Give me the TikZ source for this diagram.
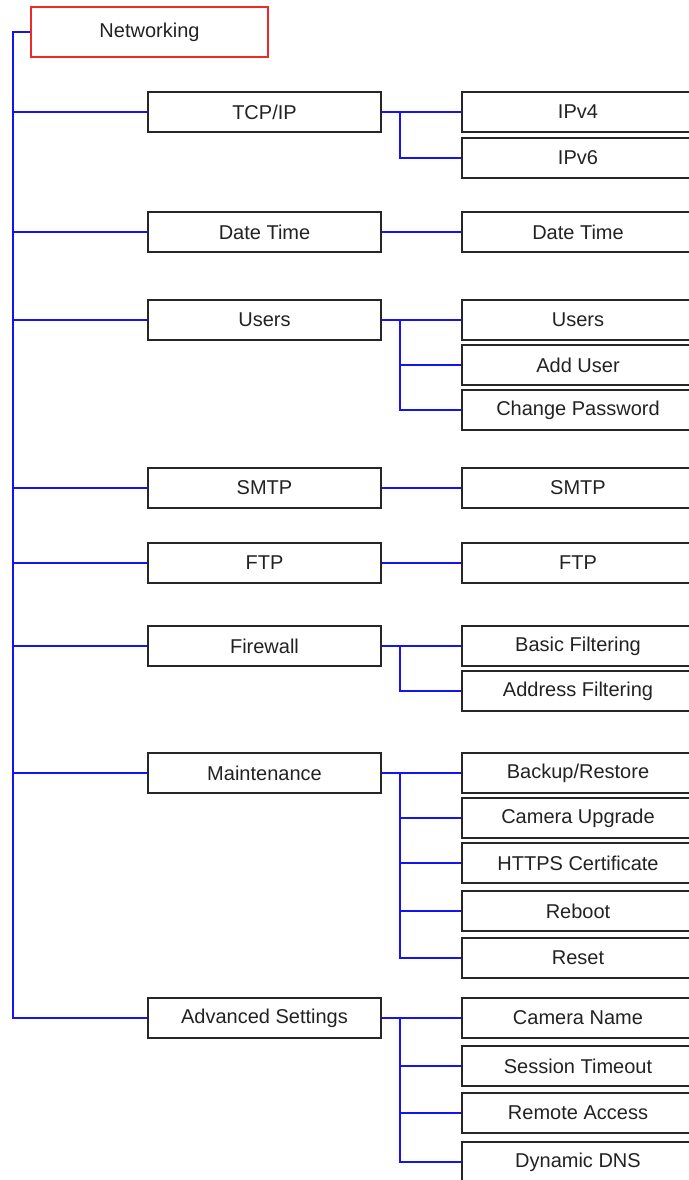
\documentclass[tikz,border=0pt]{standalone}
\usepackage{fontspec}
\setmainfont{Liberation Sans}
\usetikzlibrary{positioning}
\definecolor{netblue}{HTML}{1414F0}
\definecolor{netred}{HTML}{F02828}
\definecolor{nettext}{HTML}{222222}

\begin{document}
\begin{tikzpicture}[x=1pt, y=-1pt,
  rootbox/.style={rectangle, draw=netred, line width=1.8pt, inner sep=0pt,
    minimum width=237pt, minimum height=50pt,
    font=\fontsize{20}{24}\selectfont, text=nettext},
  menubox/.style={rectangle, draw=black!85, line width=1.8pt, inner sep=0pt,
    minimum width=233pt, minimum height=40pt,
    font=\fontsize{20}{24}\selectfont, text=nettext},
  pagebox/.style={menubox, minimum width=232pt},
  link/.style={netblue, line width=2pt},
]
  \useasboundingbox (0,0) rectangle (688,1180);

  % root and first level
  \node[rootbox] (net) at (149.5,32) {Networking};
  \node[menubox] (tcp) at (264.5,112) {TCP/IP};
  \node[menubox] (date) at (264.5,232) {Date Time};
  \node[menubox] (users) at (264.5,320) {Users};
  \node[menubox] (smtp) at (264.5,488) {SMTP};
  \node[menubox] (ftp) at (264.5,563) {FTP};
  \node[menubox] (fw) at (264.5,646) {Firewall};
  \node[menubox] (maint) at (264.5,773) {Maintenance};
  \node[menubox] (adv) at (264.5,1018) {Advanced Settings};

  % second level
  \node[pagebox] (ipv4) at (578,112) {IPv4};
  \node[pagebox] (ipv6) at (578,158) {IPv6};
  \node[pagebox] (datep) at (578,232) {Date Time};
  \node[pagebox] (usersp) at (578,320) {Users};
  \node[pagebox] (adduser) at (578,365) {Add User};
  \node[pagebox] (chpass) at (578,410) {Change Password};
  \node[pagebox] (smtpp) at (578,488) {SMTP};
  \node[pagebox] (ftpp) at (578,563) {FTP};
  \node[pagebox] (basicf) at (578,646) {Basic Filtering};
  \node[pagebox] (addrf) at (578,691) {Address Filtering};
  \node[pagebox] (backup) at (578,773) {Backup/Restore};
  \node[pagebox] (upgrade) at (578,818) {Camera Upgrade};
  \node[pagebox] (https) at (578,863) {HTTPS Certificate};
  \node[pagebox] (reboot) at (578,911) {Reboot};
  \node[pagebox] (reset) at (578,958) {Reset};
  \node[pagebox] (camname) at (578,1018) {Camera Name};
  \node[pagebox] (session) at (578,1066) {Session Timeout};
  \node[pagebox] (remote) at (578,1113) {Remote Access};
  \node[pagebox] (ddns) at (578,1162) {Dynamic DNS};

  % trunk on the left
  \coordinate (trunk) at (13,32);
  \draw[link] (net.west) -- (trunk) |- (adv.west);
  \draw[link] (tcp.west) -- (tcp.west -| trunk);
  \draw[link] (date.west) -- (date.west -| trunk);
  \draw[link] (users.west) -- (users.west -| trunk);
  \draw[link] (smtp.west) -- (smtp.west -| trunk);
  \draw[link] (ftp.west) -- (ftp.west -| trunk);
  \draw[link] (fw.west) -- (fw.west -| trunk);
  \draw[link] (maint.west) -- (maint.west -| trunk);

  % branches on the right
  \draw[link] (tcp.east) -- (ipv4.west);
  \draw[link] ([xshift=18pt]tcp.east) |- (ipv6.west);
  \draw[link] (date.east) -- (datep.west);
  \draw[link] (users.east) -- (usersp.west);
  \draw[link] ([xshift=18pt]users.east) |- (chpass.west);
  \draw[link] (adduser.west) -- ([xshift=18pt]users.east |- adduser.west);
  \draw[link] (smtp.east) -- (smtpp.west);
  \draw[link] (ftp.east) -- (ftpp.west);
  \draw[link] (fw.east) -- (basicf.west);
  \draw[link] ([xshift=18pt]fw.east) |- (addrf.west);

  \coordinate (maintbus) at ([xshift=18pt]maint.east);
  \draw[link] (maint.east) -- (backup.west);
  \draw[link] (maintbus) |- (reset.west);
  \draw[link] (upgrade.west) -- (upgrade.west -| maintbus);
  \draw[link] (https.west) -- (https.west -| maintbus);
  \draw[link] (reboot.west) -- (reboot.west -| maintbus);

  \coordinate (advbus) at ([xshift=18pt]adv.east);
  \draw[link] (adv.east) -- (camname.west);
  \draw[link] (advbus) |- (ddns.west);
  \draw[link] (session.west) -- (session.west -| advbus);
  \draw[link] (remote.west) -- (remote.west -| advbus);
\end{tikzpicture}
\end{document}
